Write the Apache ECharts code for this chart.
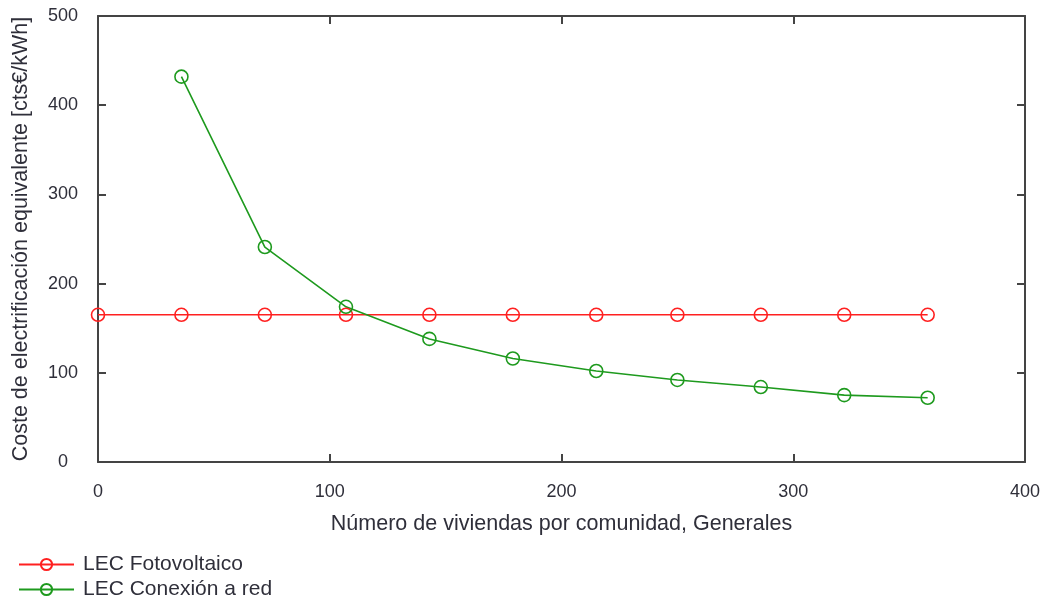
<!DOCTYPE html>
<html>
<head>
<meta charset="utf-8">
<script src="https://cdn.jsdelivr.net/npm/echarts@6/dist/echarts.min.js"></script>
<style>html,body{margin:0;padding:0;background:#fff;}#c{width:1050px;height:608px;}</style>
</head>
<body>
<div id="c"></div>
<script>
const viviendas = [0, 36, 72, 107, 143, 179, 215, 250, 286, 322, 358];
const lecFotovoltaico = [165, 165, 165, 165, 165, 165, 165, 165, 165, 165, 165];
const lecRed = [null, 432, 241, 174, 138, 116, 102, 92, 84, 75, 72];
const seriesNames = ['LEC Fotovoltaico', 'LEC Conexión a red'];
const xTicks = [0, 100, 200, 300, 400];
const yTicks = [0, 100, 200, 300, 400, 500];

const chart = echarts.init(document.getElementById('c'));
const font = 'Liberation Sans, Arial, sans-serif';
const axisCol = '#444';
const textCol = '#2f2f3a';
function pairs(xs, ys) { return xs.map((x, i) => ys[i] == null ? null : [x, ys[i]]).filter(p => p); }

chart.setOption({
  animation: false,
  backgroundColor: '#fff',
  textStyle: { fontFamily: font },
  grid: { left: 98, right: 25, top: 16, bottom: 146 },
  legend: {
    orient: 'vertical', left: 13, top: 549, itemWidth: 55, itemHeight: 14, itemGap: 4,
    textStyle: { fontSize: 21, color: textCol, fontFamily: font, padding: [0, 0, 0, 4] },
    data: seriesNames
  },
  xAxis: [{
    type: 'value', min: xTicks[0], max: xTicks[xTicks.length - 1], interval: 100,
    name: 'Número de viviendas por comunidad, Generales', nameLocation: 'middle', nameGap: 51,
    nameTextStyle: { fontSize: 21.5, color: textCol },
    axisLine: { show: true, lineStyle: { color: axisCol, width: 2 } },
    axisTick: { show: true, inside: true, length: 8, lineStyle: { color: axisCol, width: 2 } },
    axisLabel: { fontSize: 18, color: textCol, margin: 21 },
    splitLine: { show: false }
  }, {
    type: 'value', position: 'top', min: 0, max: 400, interval: 100,
    axisLine: { show: true, onZero: false, lineStyle: { color: axisCol, width: 2 } },
    axisTick: { show: true, inside: true, length: 8, lineStyle: { color: axisCol, width: 2 } },
    axisLabel: { show: false }, splitLine: { show: false }
  }],
  yAxis: [{
    type: 'value', min: yTicks[0], max: yTicks[yTicks.length - 1], interval: 100,
    name: 'Coste de electrificación equivalente [cts€/kWh]', nameLocation: 'middle', nameGap: 66,
    nameTextStyle: { fontSize: 21.5, color: textCol },
    axisLine: { show: true, lineStyle: { color: axisCol, width: 2 } },
    axisTick: { show: true, inside: true, length: 8, lineStyle: { color: axisCol, width: 2 } },
    axisLabel: { fontSize: 18, color: textCol, margin: 35, align: 'center' },
    splitLine: { show: false }
  }, {
    type: 'value', position: 'right', min: 0, max: 500, interval: 100,
    axisLine: { show: true, onZero: false, lineStyle: { color: axisCol, width: 2 } },
    axisTick: { show: true, inside: true, length: 8, lineStyle: { color: axisCol, width: 2 } },
    axisLabel: { show: false }, splitLine: { show: false }
  }],
  series: [{
    name: seriesNames[0], type: 'line', data: pairs(viviendas, lecFotovoltaico),
    symbol: 'circle', symbolSize: 13, showAllSymbol: true,
    lineStyle: { color: '#ff2020', width: 1.5 },
    itemStyle: { color: 'rgba(255,255,255,0)', borderColor: '#ff2020', borderWidth: 1.6 },
    emphasis: { disabled: true }
  }, {
    name: seriesNames[1], type: 'line', data: pairs(viviendas, lecRed),
    symbol: 'circle', symbolSize: 13, showAllSymbol: true,
    lineStyle: { color: '#1e9a1e', width: 1.6 },
    itemStyle: { color: 'rgba(255,255,255,0)', borderColor: '#1e9a1e', borderWidth: 1.6 },
    emphasis: { disabled: true }
  }]
});
</script>
</body>
</html>
